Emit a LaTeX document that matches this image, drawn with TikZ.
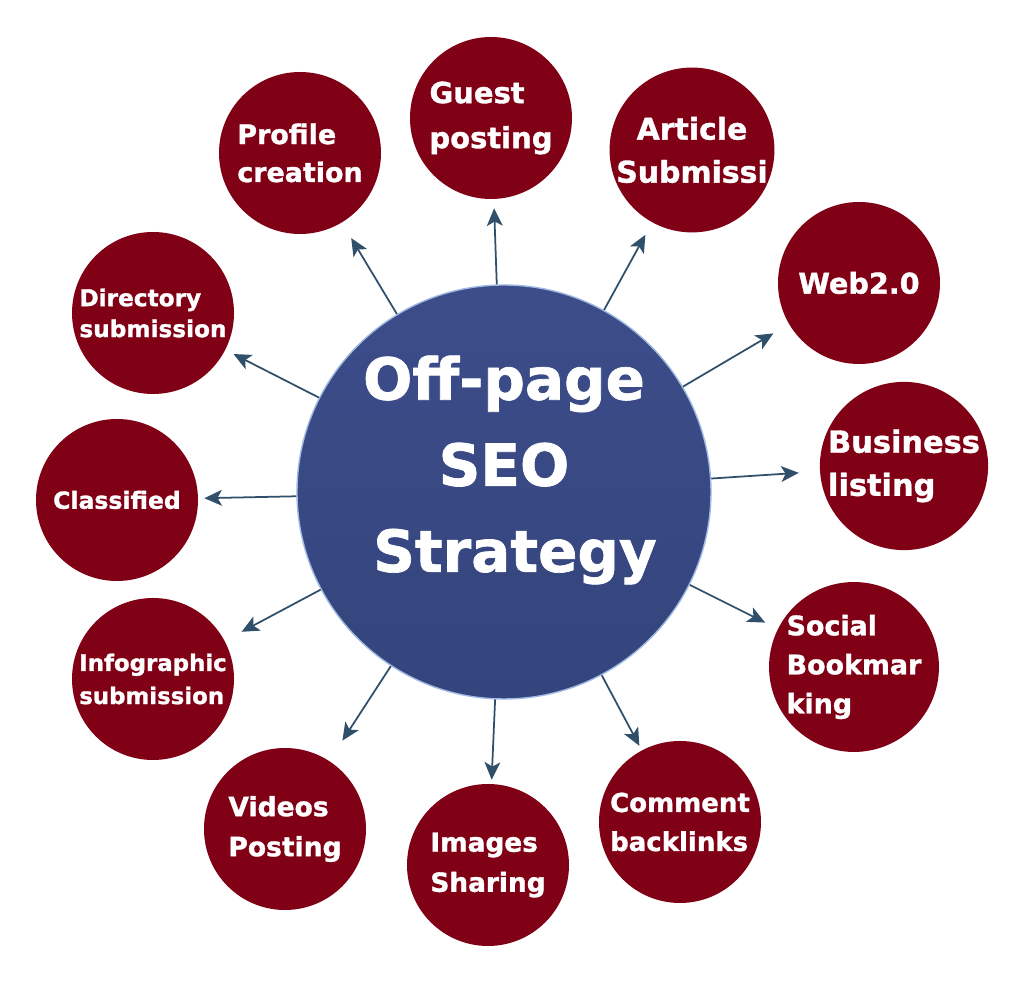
\documentclass[tikz,border=0pt]{standalone}
\usepackage{fontspec}
\setmainfont{DejaVu Sans}[BoldFeatures={FakeBold=1.2}]
\usepackage{tikz}
\usetikzlibrary{arrows.meta, calc}
\definecolor{hubtop}{RGB}{60,77,138}
\definecolor{hubbot}{RGB}{52,68,124}
\definecolor{hubrim}{RGB}{160,185,225}
\definecolor{leafcol}{RGB}{128,0,22}
\definecolor{arrowcol}{RGB}{47,79,106}

\begin{document}
\begin{tikzpicture}[
    arr/.style={-{Stealth[length=10pt, width=9pt, inset=2.5pt]}, line width=1pt, draw=arrowcol},
    hubcircle/.style={circle, minimum size=8.28cm, inner sep=0pt,
                      top color=hubtop, bottom color=hubbot,
                      draw=hubrim, line width=0.8pt},
    hubtext/.style={text=white, align=center, inner sep=0pt,
                    font=\fontsize{33}{49}\selectfont\bfseries},
    leaf/.style={circle, fill=leafcol, minimum size=3.24cm, inner sep=0pt,
                 text=white, align=left},
]

\path[use as bounding box] (0,0) rectangle (20.48,19.8);

% ════════════════════════════════════════════════════════
% 1. CENTRE CIRCLE
% ════════════════════════════════════════════════════════
\node[hubcircle] (hub) at (10.08, 9.96) {};
\node[hubtext] (title) at ($(hub.center)+(0, 0.44)$)
    {Off-page\\ SEO\\ \hspace*{0.44cm}Strategy};

% ════════════════════════════════════════════════════════
% 2. OUTER CIRCLES (clockwise from top left)
% ════════════════════════════════════════════════════════
\node[leaf, font=\fontsize{15.3}{21.6}\selectfont\bfseries]
    (profile) at (6.00, 16.74) {Profile\\ creation};
\node[leaf, font=\fontsize{16.5}{25.6}\selectfont\bfseries]
    (guest) at (9.82, 17.44) {Guest\\ posting};
\node[leaf, align=center, font=\fontsize{17}{24.5}\selectfont\bfseries]
    (article) at (13.84, 16.80) {Article\\ Submissi};
\node[leaf, font=\fontsize{16.3}{22}\selectfont\bfseries]
    (web) at (17.18, 14.14) {Web2.0};
\node[leaf, font=\fontsize{17.3}{24.5}\selectfont\bfseries]
    (business) at (18.08, 10.48) {Business\\ listing};
\node[leaf, font=\fontsize{15.3}{22.2}\selectfont\bfseries]
    (social) at (17.08, 6.46) {Social\\ Bookmar\\ king};
\node[leaf, font=\fontsize{14.8}{22.2}\selectfont\bfseries]
    (comment) at (13.60, 3.36) {Comment\\ backlinks};
\node[leaf, font=\fontsize{15}{22.8}\selectfont\bfseries]
    (images) at (9.76, 2.50) {Images\\ Sharing};
\node[leaf, font=\fontsize{15.1}{22.8}\selectfont\bfseries]
    (videos) at (5.70, 3.22) {Videos\\ Posting};
\node[leaf, font=\fontsize{13}{18.8}\selectfont\bfseries]
    (infographic) at (3.06, 6.22) {Infographic\\ submission};
\node[leaf, font=\fontsize{13.4}{18}\selectfont\bfseries]
    (classified) at (2.34, 9.80) {Classified};
\node[leaf, font=\fontsize{13.2}{17.6}\selectfont\bfseries]
    (directory) at (3.06, 13.54) {Directory\\ submission};

% ════════════════════════════════════════════════════════
% 3. ARROWS FROM CENTRE
% ════════════════════════════════════════════════════════
\foreach \leafname/\gap in {profile/0.36, guest/0.18, article/0.28,
        web/0.36, business/0.42, social/0.28, comment/0.10,
        images/0.08, videos/0.48, infographic/0.38,
        classified/0.12, directory/0.18}{
    \draw[arr, shorten >=\gap cm] (hub) -- (\leafname);
}

\end{tikzpicture}
\end{document}
